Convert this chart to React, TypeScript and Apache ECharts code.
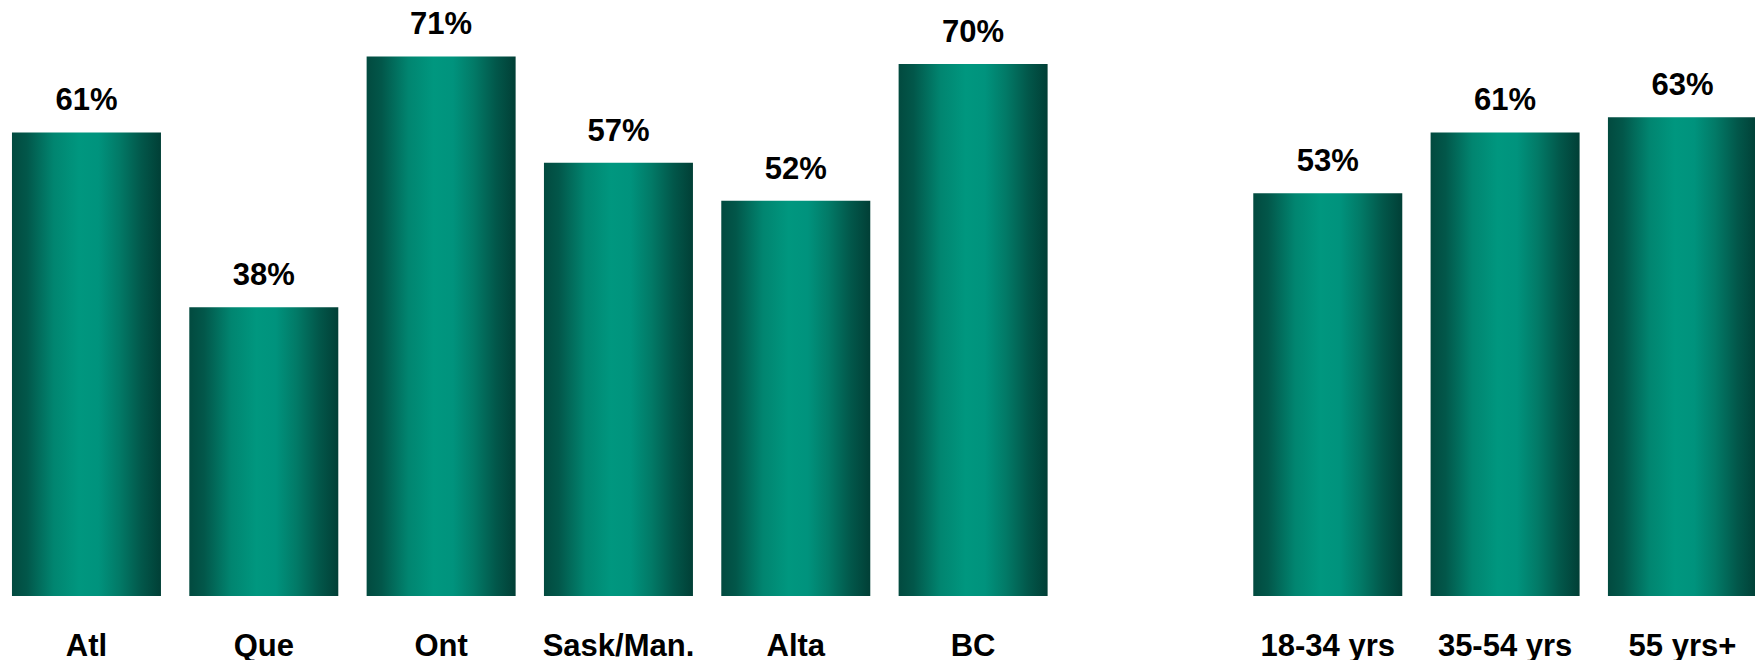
import React, { useEffect, useRef } from "react";
import * as echarts from "echarts";

const categories = ["Atl", "Que", "Ont", "Sask/Man.", "Alta", "BC", "", "18-34 yrs", "35-54 yrs", "55 yrs+"];
const values: (number | null)[] = [61, 38, 71, 57, 52, 70, null, 53, 61, 63];

export default function App() {
  const ref = useRef<HTMLDivElement>(null);
  useEffect(() => {
    if (!ref.current) return;
    const chart = echarts.init(ref.current, undefined, { renderer: "svg" });
    const grad = new echarts.graphic.LinearGradient(0, 0, 1, 0, [
      { offset: 0, color: "#024a3f" },
      { offset: 0.1, color: "#02574a" },
      { offset: 0.28, color: "#018570" },
      { offset: 0.45, color: "#00977f" },
      { offset: 0.58, color: "#00937d" },
      { offset: 0.72, color: "#027a67" },
      { offset: 0.87, color: "#02574a" },
      { offset: 1, color: "#013f36" },
    ]);
    chart.setOption({
      animation: false,
      grid: {
        left: -2.2,
        width: 1773.3,
        top: 26,
        bottom: 64,
        containLabel: false,
        outerBoundsMode: "none",
      },
      xAxis: {
        type: "category",
        data: categories,
        axisLine: { show: false },
        axisTick: { show: false },
        axisLabel: {
          margin: 34,
          color: "#000",
          fontSize: 31,
          fontWeight: "bold",
          fontFamily: "Liberation Sans, Arial, sans-serif",
          interval: 0,
        },
      },
      yAxis: {
        type: "value",
        min: 0,
        max: 75,
        show: false,
        splitLine: { show: false },
      },
      series: [
        {
          type: "bar",
          data: values,
          barWidth: 149,
          itemStyle: { color: grad },
          label: {
            show: true,
            position: "top",
            distance: 17,
            formatter: "{c}%",
            color: "#000",
            fontSize: 31,
            fontWeight: "bold",
            fontFamily: "Liberation Sans, Arial, sans-serif",
          },
        },
      ],
    });
    return () => chart.dispose();
  }, []);
  return (
    <div
      ref={ref}
      style={{ position: "absolute", left: 0, top: 0, width: 1755, height: 660, background: "#fff" }}
    />
  );
}
